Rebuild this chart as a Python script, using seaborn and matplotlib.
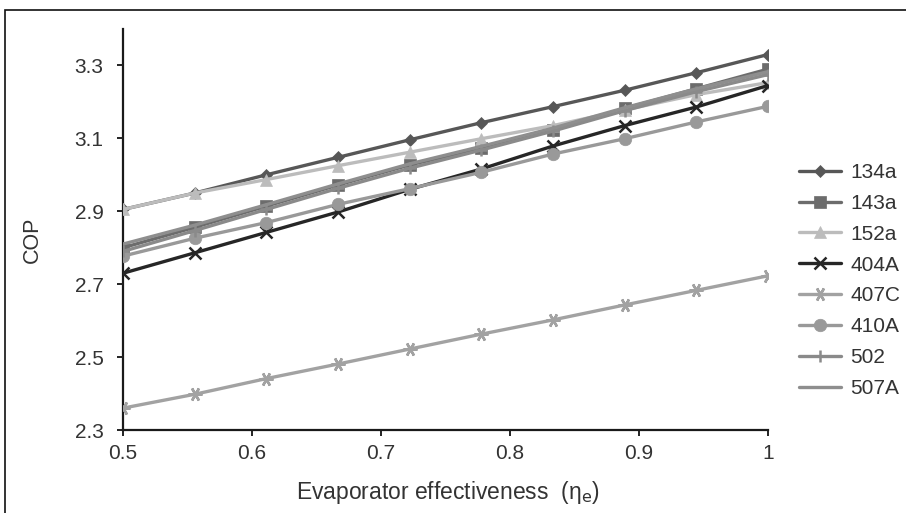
import numpy as np
import pandas as pd
import matplotlib
matplotlib.use("Agg")
import matplotlib.pyplot as plt
import seaborn as sns
from matplotlib.patches import Rectangle

# evaporator effectiveness (10 points, 0.5 -> 1)
eta = [0.5, 0.5556, 0.6111, 0.6667, 0.7222, 0.7778, 0.8333, 0.8889, 0.9444, 1.0]

cop_134a = [2.905, 2.950, 3.000, 3.048, 3.096, 3.143, 3.187, 3.232, 3.280, 3.330]
cop_143a = [2.800, 2.856, 2.914, 2.972, 3.027, 3.073, 3.124, 3.182, 3.236, 3.290]
cop_152a = [2.905, 2.950, 2.987, 3.025, 3.062, 3.099, 3.135, 3.178, 3.220, 3.253]
cop_404A = [2.730, 2.786, 2.842, 2.898, 2.960, 3.016, 3.079, 3.135, 3.186, 3.245]
cop_407C = [2.360, 2.398, 2.441, 2.481, 2.522, 2.563, 2.602, 2.643, 2.683, 2.723]
cop_410A = [2.777, 2.826, 2.869, 2.919, 2.962, 3.007, 3.057, 3.099, 3.145, 3.188]
cop_502 = [2.790, 2.847, 2.905, 2.963, 3.018, 3.068, 3.120, 3.176, 3.228, 3.275]
cop_507A = [2.810, 2.862, 2.918, 2.975, 3.030, 3.078, 3.128, 3.184, 3.236, 3.283]

refrigerants = ["134a", "143a", "152a", "404A", "407C", "410A", "502", "507A"]
series = [cop_134a, cop_143a, cop_152a, cop_404A, cop_407C, cop_410A, cop_502, cop_507A]

y_ticks = [2.3, 2.5, 2.7, 2.9, 3.1, 3.3]
x_ticks = [0.5, 0.6, 0.7, 0.8, 0.9, 1.0]
x_ticklabels = ["0.5", "0.6", "0.7", "0.8", "0.9", "1"]

palette = {"134a": "#575757", "143a": "#6c6c6c", "152a": "#bcbcbc", "404A": "#262626",
           "407C": "#a2a2a2", "410A": "#999999", "502": "#8a8a8a", "507A": "#8e8e8e"}
markers = {"134a": "D", "143a": "s", "152a": "^", "404A": "x",
           "407C": (6, 2, 90), "410A": "o", "502": "+", "507A": ""}
msizes = {"134a": 6, "143a": 8, "152a": 8, "404A": 9, "407C": 10, "410A": 9, "502": 8, "507A": 0}

rows = []
for name, vals in zip(refrigerants, series):
    for e, c in zip(eta, vals):
        rows.append({"eta": e, "cop": c, "ref": name})
df = pd.DataFrame(rows)

sns.set_style("ticks")
plt.rcParams["font.family"] = ["Liberation Sans", "DejaVu Sans"]

fig = plt.figure(figsize=(9.06, 5.13), dpi=100)
ax = fig.add_axes([123 / 906, 1 - 430 / 513, 645 / 906, 401 / 513])

sns.lineplot(data=df, x="eta", y="cop", hue="ref", hue_order=refrigerants,
             palette=palette, linewidth=2.4, errorbar=None, legend=False, ax=ax)

for line, name in zip(ax.lines, refrigerants):
    col = palette[name]
    line.set_marker(markers[name])
    line.set_markersize(msizes[name])
    line.set_markerfacecolor(col)
    line.set_markeredgecolor(col)
    line.set_markeredgewidth(1.8 if name in ("404A", "407C", "502") else 0.5)

ax.set_xlim(0.5, 1.0)
ax.set_ylim(2.3, 3.4)
ax.set_xticks(x_ticks)
ax.set_xticklabels(x_ticklabels)
ax.set_yticks(y_ticks)
ax.set_yticklabels([f"{v:.1f}" for v in y_ticks])
ax.tick_params(axis="both", length=4, width=1.4, labelsize=15, colors="#333333")
ax.tick_params(axis="both", color="#222222")
ax.tick_params(axis="x", pad=6)
ax.tick_params(axis="y", pad=10)
ax.set_facecolor("white")

sns.despine(ax=ax)
for s in ("left", "bottom"):
    ax.spines[s].set_linewidth(1.6)
    ax.spines[s].set_color("#1a1a1a")
ax.spines["left"].set_zorder(0)

ax.set_xlabel("Evaporator effectiveness  (η$_\\mathrm{e}$)", fontsize=16.5, color="#333333")
ax.set_ylabel("COP", fontsize=15.5, color="#333333")
ax.xaxis.set_label_coords(0.504, -0.122)
ax.yaxis.set_label_coords(-0.124, 0.474)

handles = list(ax.lines)
fig.legend(handles, refrigerants, loc="upper left", bbox_to_anchor=(799 / 906, 1 - 163 / 513),
           frameon=False, fontsize=15, handlelength=2.0, handletextpad=0.45,
           labelspacing=0.57, borderpad=0, borderaxespad=0, labelcolor="#333333")

# thin frame around the figure (left and top edges visible)
fig.patches.append(Rectangle((5 / 906, -0.1), 1.2, 1.1 - 10 / 513, fill=False,
                             edgecolor="#111111", linewidth=1.2, transform=fig.transFigure))

fig.savefig("out.png", dpi=100, facecolor="white")
